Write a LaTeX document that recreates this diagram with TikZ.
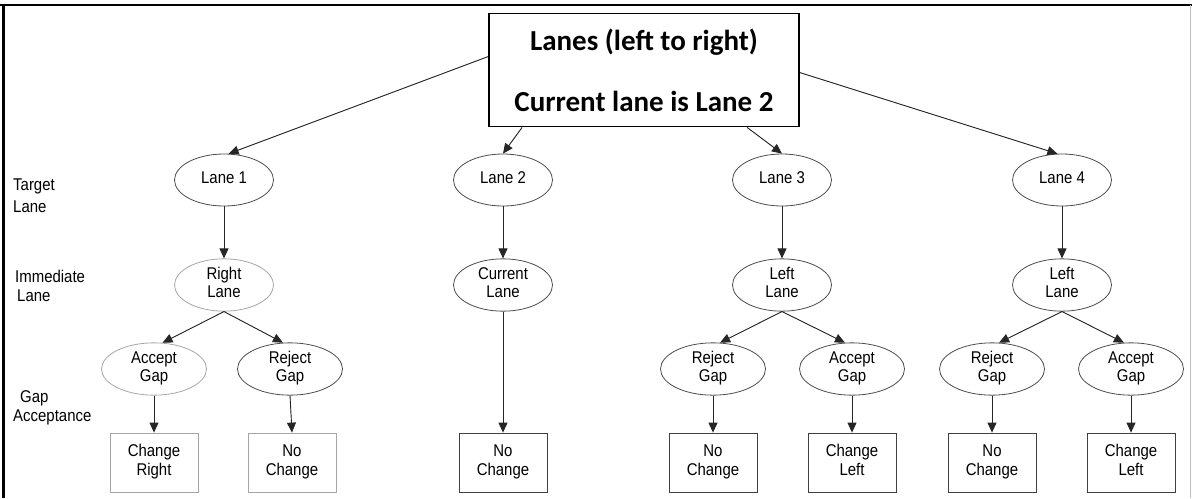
\documentclass[tikz,border=0pt]{standalone}
\usepackage{fontspec}
\setmainfont{Liberation Sans}[FakeStretch=0.88]
\newfontfamily\titlefont{Carlito}
\usetikzlibrary{shapes.geometric,arrows.meta,calc}
\newcommand{\twol}[2]{\strut#1\\\strut#2}
\begin{document}
\begin{tikzpicture}[x=1pt,y=-1pt,
  lbl/.style={font=\fontsize{17}{18.5}\selectfont, align=center},
  ell/.style={ellipse, draw=black!70, line width=0.8pt, minimum width=99pt, minimum height=52pt, inner sep=0pt, lbl},
  gapell/.style={ell, minimum width=105pt, minimum height=48pt},
  outbox/.style={rectangle, draw=black!75, line width=0.8pt, minimum width=88pt, minimum height=59pt, inner sep=0pt, lbl},
  faint/.style={draw=black!35},
  arr/.style={-{Triangle[length=10pt,width=9pt]}, line width=0.9pt, draw=black!85, fill=black},
  side/.style={align=left, anchor=west, inner sep=0pt}]
\useasboundingbox (0,0) rectangle (1193,498);
% frame
\draw[line width=2.5pt] (0,5) -- (1192,5);
\draw[line width=3pt] (3,4) -- (3,498);
\draw[black!25, line width=1pt] (1190.5,5) -- (1190.5,498);
% title
\node[draw, line width=1.8pt, minimum width=310pt, minimum height=113pt, inner sep=0pt, align=center,
      font=\titlefont\bfseries\fontsize{29}{61}\selectfont] (title) at (644,70) {Lanes (left to right)\\Current lane is Lane 2};
% side labels
\node[side, font=\fontsize{17}{22}\selectfont] (tl) at (13,196) {Target\\Lane};
\node[side, font=\fontsize{17}{18.5}\selectfont] (il) at (15,286) {Immediate\\\hspace*{2pt}Lane};
\node[side, font=\fontsize{17}{19.5}\selectfont] (gl) at (13,408) {\hspace*{7pt}Gap\\Acceptance};
% target lanes
\node[ell] (l1) at (224,180) {\strut Lane 1};
\node[ell] (l2) at (503,180) {\strut Lane 2};
\node[ell] (l3) at (782,180) {\strut Lane 3};
\node[ell] (l4) at (1062,180) {\strut Lane 4};
% immediate lanes
\node[ell, faint] (i1) at (224,285) {\twol{Right}{Lane}};
\node[ell] (i2) at (503,285) {\twol{Current}{Lane}};
\node[ell] (i3) at (782,285) {\twol{Left}{Lane}};
\node[ell] (i4) at (1062,285) {\twol{Left}{Lane}};
% gap acceptance
\node[gapell, faint] (g1a) at (154,369) {\twol{Accept}{Gap}};
\node[gapell] (g1r) at (290,369) {\twol{Reject}{Gap}};
\node[gapell] (g3r) at (713,369) {\twol{Reject}{Gap}};
\node[gapell] (g3a) at (852,369) {\twol{Accept}{Gap}};
\node[gapell] (g4r) at (992,369) {\twol{Reject}{Gap}};
\node[gapell] (g4a) at (1131,369) {\twol{Accept}{Gap}};
% outcomes
\node[outbox, faint] (b1a) at (154,462.5) {\twol{Change}{Right}};
\node[outbox, faint] (b1r) at (292,462.5) {\twol{No}{Change}};
\node[outbox] (b2) at (503,462.5) {\twol{No}{Change}};
\node[outbox] (b3r) at (713,462.5) {\twol{No}{Change}};
\node[outbox] (b3a) at (852,462.5) {\twol{Change}{Left}};
\node[outbox] (b4r) at (992,462.5) {\twol{No}{Change}};
\node[outbox] (b4a) at (1131,462.5) {\twol{Change}{Left}};
% connectors from title
\draw[arr] ($(title.north west)+(0,44)$) -- (l1.80);
\draw[arr] ($(title.south west)+(34,0)$) -- (l2.north);
\draw[arr] ($(title.south west)+(259,0)$) -- (l3.north);
\draw[arr] ($(title.north east)+(0,60)$) -- (l4.100);
% target -> immediate
\draw[arr] (l1.south) -- (i1.north);
\draw[arr] (l2.south) -- (i2.north);
\draw[arr] (l3.south) -- (i3.north);
\draw[arr] (l4.south) -- (i4.north);
% immediate -> gap
\draw[arr] (i1.south) -- (g1a.72);
\draw[arr] (i1.south) -- (g1r.105);
\draw[arr] (i3.south) -- (g3r.75);
\draw[arr] (i3.south) -- (g3a.105);
\draw[arr] (i4.south) -- (g4r.75);
\draw[arr] (i4.south) -- (g4a.105);
\draw[arr] (i2.south) -- (b2.north);
% gap -> outcome
\draw[arr] (g1a.south) -- (b1a.north);
\draw[arr] (g1r.south) -- (b1r.north);
\draw[arr] (g3r.south) -- (b3r.north);
\draw[arr] (g3a.south) -- (b3a.north);
\draw[arr] (g4r.south) -- (b4r.north);
\draw[arr] (g4a.south) -- (b4a.north);
\end{tikzpicture}
\end{document}
